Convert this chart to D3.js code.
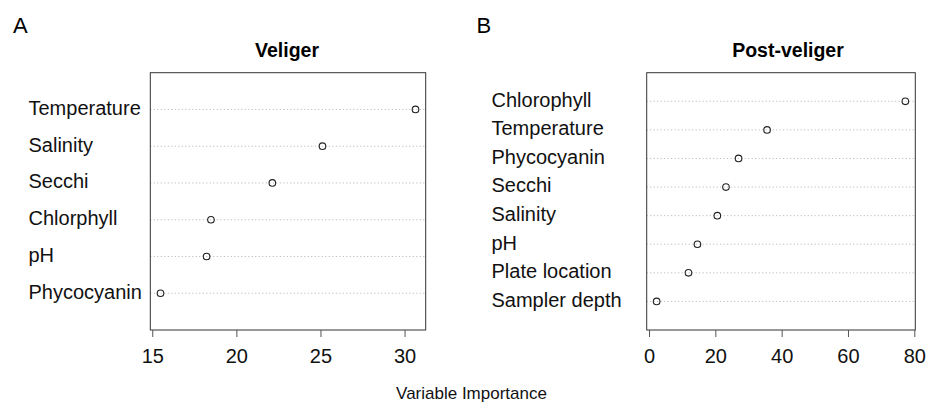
<!DOCTYPE html>
<html>
<head>
<meta charset="utf-8">
<script src="https://cdn.jsdelivr.net/npm/d3@7"></script>
<style>
  body { margin: 0; background: #fff; }
  svg { display: block; font-family: "Liberation Sans", Arial, Helvetica, sans-serif; }
</style>
</head>
<body>
<svg id="chart" width="943" height="403"></svg>
<script>
"use strict";

var veligerVars = ["Temperature", "Salinity", "Secchi", "Chlorphyll", "pH", "Phycocyanin"],
    veligerImp = [30.65, 25.12, 22.14, 18.49, 18.23, 15.49],
    veligerTicks = [15, 20, 25, 30],

    postVars = ["Chlorophyll", "Temperature", "Phycocyanin", "Secchi", "Salinity", "pH",
		"Plate location", "Sampler depth"],
    postImp = [77.3, 35.6, 27.0, 23.2, 20.6, 14.6, 11.9, 2.3],
    postTicks = [0, 20, 40, 60, 80],

    boxTop = 72.7,
    boxBottom = 330,
    labelSize = 20,
    tickLen = 7;

var svg = d3.select("#chart");

/*
 One dotchart panel, R style:
 + labels on the left, dotted guide lines, open circles.
 + x range padded by 4% of the data range on each side.
 */
var panel = function(opts) {
    var n = opts.vars.length,
	lo = d3.min(opts.values),
	hi = d3.max(opts.values),
	pad = (hi - lo) * 0.04,

	x = d3.scaleLinear()
	    .domain([lo - pad, hi + pad])
	    .range([opts.left, opts.right]),

	y = d3.scaleLinear()
	    .domain([0, n + 1])
	    .range([boxBottom, boxTop]),

	rows = opts.vars.map(function(v, i) {
	    return { name: v, value: opts.values[i], pos: n - i };
	}),

	g = svg.append("g");

    g.append("text")
	.attr("x", opts.letterX)
	.attr("y", 32.7)
	.attr("font-size", 22)
	.text(opts.letter);

    g.append("text")
	.attr("x", opts.titleX)
	.attr("y", 56.7)
	.attr("text-anchor", "middle")
	.attr("font-size", 19.5)
	.attr("font-weight", "bold")
	.text(opts.title);

    g.selectAll("line.guide")
	.data(rows)
	.enter().append("line")
	.classed("guide", true)
	.attr("x1", opts.left)
	.attr("x2", opts.right)
	.attr("y1", function(d) { return y(d.pos); })
	.attr("y2", function(d) { return y(d.pos); })
	.attr("stroke", "#a8a8a8")
	.attr("stroke-width", 0.9)
	.attr("stroke-dasharray", "1,2.5");

    g.selectAll("text.label")
	.data(rows)
	.enter().append("text")
	.classed("label", true)
	.attr("x", opts.labelX)
	.attr("y", function(d) { return y(d.pos) + 5.4; })
	.attr("font-size", labelSize)
	.attr("fill", "#111")
	.text(function(d) { return d.name; });

    g.selectAll("circle")
	.data(rows)
	.enter().append("circle")
	.attr("cx", function(d) { return x(d.value); })
	.attr("cy", function(d) { return y(d.pos); })
	.attr("r", 3.3)
	.attr("fill", "none")
	.attr("stroke", "#222")
	.attr("stroke-width", 1.1);

    g.append("rect")
	.attr("x", opts.left)
	.attr("y", boxTop)
	.attr("width", opts.right - opts.left)
	.attr("height", boxBottom - boxTop)
	.attr("fill", "none")
	.attr("stroke", "#333")
	.attr("stroke-width", 1);

    var axis = g.append("g")
	    .attr("transform", "translate(0," + boxBottom + ")")
	    .call(d3.axisBottom(x)
		  .tickValues(opts.ticks)
		  .tickSize(tickLen)
		  .tickPadding(12));

    axis.select(".domain").remove();
    axis.selectAll(".tick line").attr("stroke", "#555");
    axis.selectAll(".tick text")
	.attr("font-size", labelSize)
	.attr("font-family", null)
	.attr("fill", "#111");
};

panel({
    vars: veligerVars, values: veligerImp, ticks: veligerTicks,
    left: 150.3, right: 425.7, labelX: 28.5,
    letter: "A", letterX: 13, title: "Veliger", titleX: 287
});

panel({
    vars: postVars, values: postImp, ticks: postTicks,
    left: 646.7, right: 915.3, labelX: 491.5,
    letter: "B", letterX: 476.5, title: "Post-veliger", titleX: 788
});

svg.append("text")
    .attr("x", 471.5)
    .attr("y", 399)
    .attr("text-anchor", "middle")
    .attr("font-size", 17)
    .attr("fill", "#111")
    .text("Variable Importance");
</script>
</body>
</html>
